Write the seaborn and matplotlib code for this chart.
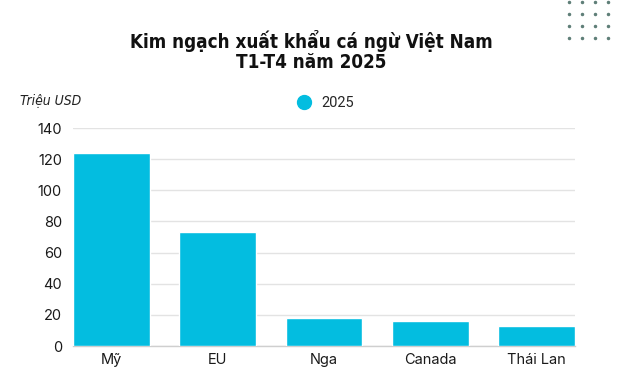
import matplotlib
matplotlib.use("Agg")
import matplotlib.pyplot as plt
from matplotlib.lines import Line2D
import seaborn as sns
import pandas as pd

categories = ["Mỹ", "EU", "Nga", "Canada", "Thái Lan"]
values_2025 = [124, 73, 18, 16, 13]
series_name = "2025"
yticks = [0, 20, 40, 60, 80, 100, 120, 140]
title = "Kim ngạch xuất khẩu cá ngừ Việt Nam\nT1-T4 năm 2025"
unit_label = "Triệu USD"

sns.set_theme(style="white")
plt.rcParams["font.family"] = ["Inter", "DejaVu Sans"]

BAR = "#03BDE0"
df = pd.DataFrame({"country": categories, "value": values_2025})

fig = plt.figure(figsize=(6.22, 3.80), dpi=100)
ax = fig.add_axes([73/622, 1-346/380, (575-73)/622, (346-128)/380])

sns.barplot(data=df, x="country", y="value", color=BAR, width=0.72,
            saturation=1, ax=ax, zorder=3)

ax.set_xlim(-0.36, 4.36)
ax.set_ylim(0, 140)
ax.set_yticks(yticks)
ax.set_xlabel("")
ax.set_ylabel("")
ax.grid(axis="y", color="#e3e3e3", linewidth=1, zorder=0)
for s in ["top", "right", "left"]:
    ax.spines[s].set_visible(False)
ax.spines["bottom"].set_color("#cfcfcf")
ax.spines["bottom"].set_linewidth(1)
ax.tick_params(axis="both", length=0, labelsize=10.5, colors="#1a1a1a")
ax.tick_params(axis="y", pad=8)
ax.tick_params(axis="x", pad=5)

fig.text(0.5, 1-51/380, title, ha="center", va="center", fontsize=13.5,
         fontweight="bold", fontstretch="condensed", color="#111111",
         linespacing=1.1, family=["DejaVu Sans"])

fig.text(20/622, 1-101/380, unit_label, ha="left", va="center",
         fontsize=10, style="italic", fontstretch="condensed",
         color="#222222", family=["DejaVu Sans"])

handle = Line2D([], [], marker="o", linestyle="", markersize=10,
                markerfacecolor=BAR, markeredgecolor=BAR)
fig.legend([handle], [series_name], loc="center",
           bbox_to_anchor=(322/622, 1-103/380), frameon=False,
           handletextpad=0.2, borderaxespad=0,
           prop={"family": ["Roboto", "DejaVu Sans"], "size": 10.5})

# decorative dot grid (top right)
for yy in [2, 14, 26, 38]:
    fig.add_artist(Line2D([569/622, 582/622, 595/622, 608/622],
                          [1-yy/380]*4, transform=fig.transFigure,
                          linestyle="", marker="o", markersize=1.5,
                          color="#5f7f78"))

fig.savefig("out.png", dpi=100)
